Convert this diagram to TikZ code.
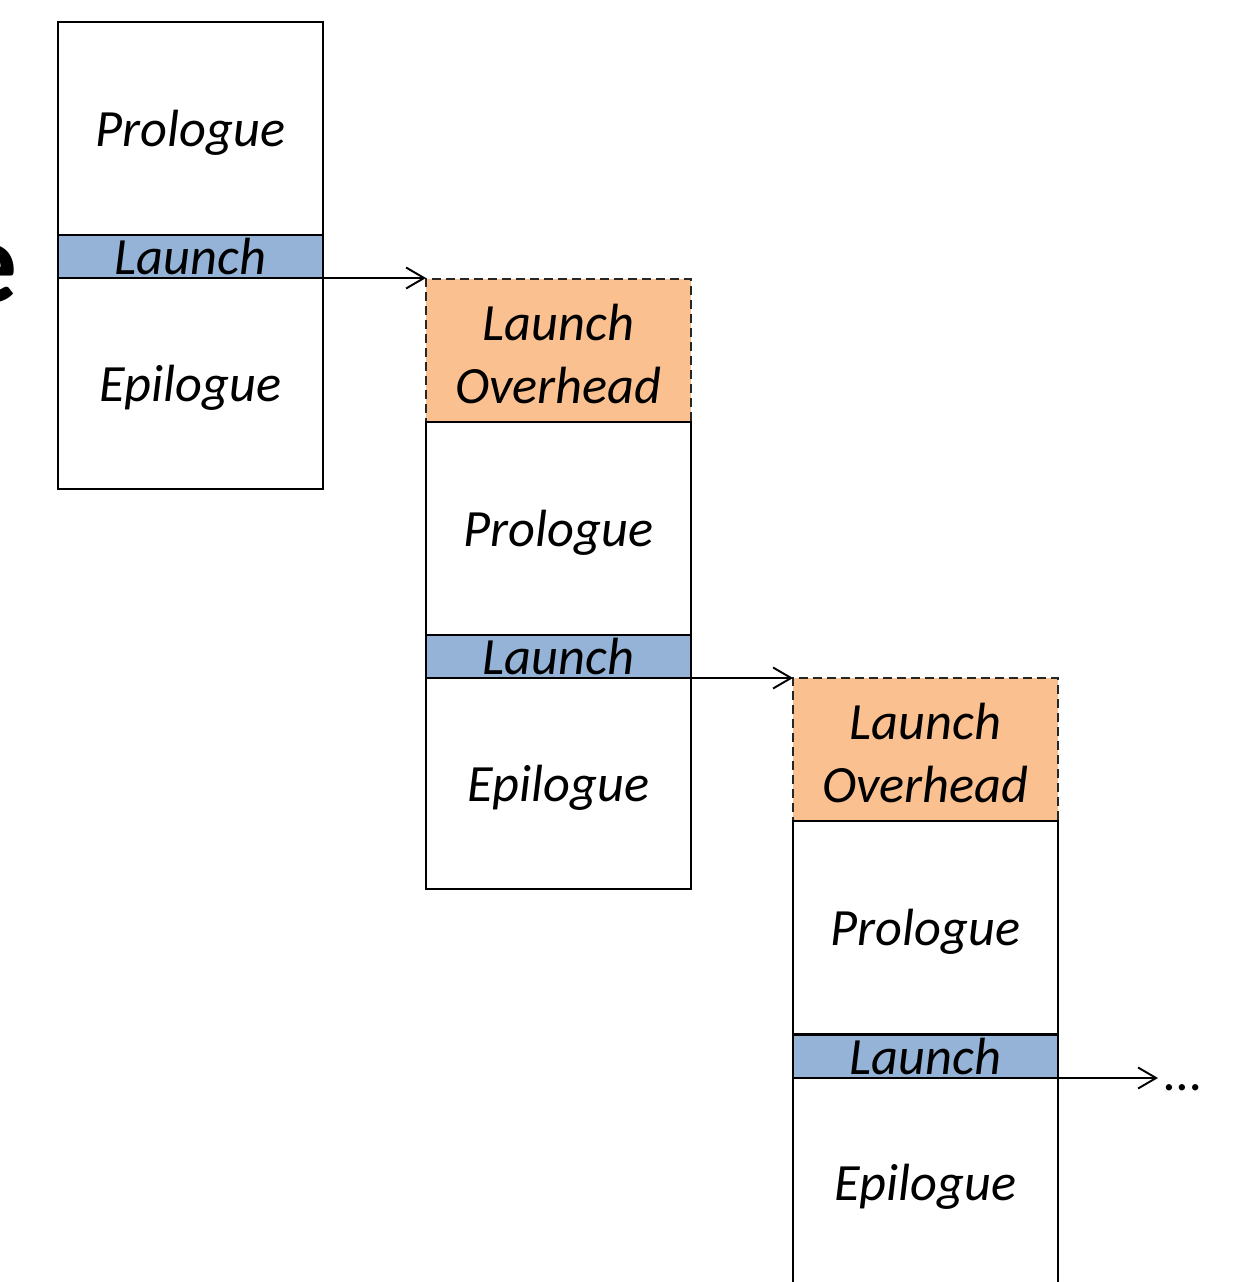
\documentclass[tikz,border=0pt]{standalone}
\usepackage{fontspec}
\setmainfont{Carlito}
\usetikzlibrary{arrows.meta}
\definecolor{launchblue}{RGB}{149,179,215}
\definecolor{overorange}{RGB}{250,192,144}
\begin{document}
\begin{tikzpicture}[x=0.02cm,y=-0.02cm,
  box/.style={draw=black, line width=1.1pt, rectangle, inner sep=0pt, outer sep=0pt,
    minimum width=5.3cm, anchor=north west, font=\fontsize{29.8}{36}\selectfont\itshape,
    text height=0.72cm, text depth=0pt},
  prol/.style={box, minimum height=4.26cm},
  epil/.style={box, minimum height=4.22cm},
  launch/.style={box, fill=launchblue, minimum height=0.86cm},
  over/.style={box, fill=overorange, draw=black!85, dash pattern=on 0.18cm off 0.1cm, minimum height=2.86cm},
  lbl/.style={inner sep=0pt, anchor=base, font=\fontsize{29.8}{36}\selectfont\itshape},
  arr/.style={line width=1.1pt, -{Straight Barb[length=0.36cm, width=0.42cm, line width=1.1pt]}}
]
\clip (0,0) rectangle (1245,1282);
% partial title letter at left edge
\node[inner sep=0pt, anchor=base east, font=\fontsize{67}{80}\selectfont\bfseries] (title) at (18,302) {e};

% column 1
\node[prol] (p1) at (58,22) {Prologue};
\node[epil] (e1) at (58,278) {Epilogue};
\node[launch] (l1) at (58,235) {Launch};

% column 2
\node[over] (o2) at (426,279) {};
\node[lbl] (o2a) at (558.5,340) {Launch};
\node[lbl] (o2b) at (558.5,403) {Overhead};
\node[prol] (p2) at (426,422) {Prologue};
\node[epil] (e2) at (426,678) {Epilogue};
\node[launch] (l2) at (426,635) {Launch};

% column 3
\node[over] (o3) at (793,678) {};
\node[lbl] (o3a) at (925.5,739) {Launch};
\node[lbl] (o3b) at (925.5,802) {Overhead};
\node[prol] (p3) at (793,821) {Prologue};
\node[box, minimum height=4.6cm] (e3) at (793,1077) {};
\node[lbl] (e3t) at (925.5,1200) {Epilogue};
\node[launch] (l3) at (793,1035) {Launch};

% arrows
\draw[arr] (l1.south east) -- (l1.south east -| o2.west);
\draw[arr] (l2.south east) -- (l2.south east -| o3.west);
\node[inner sep=0pt, anchor=base west, font=\fontsize{29.8}{36}\selectfont] (dots) at (1164,1090) {…};
\coordinate (end3) at (1158,1077);
\draw[arr] (l3.south east) -- (l3.south east -| end3);
\end{tikzpicture}
\end{document}
